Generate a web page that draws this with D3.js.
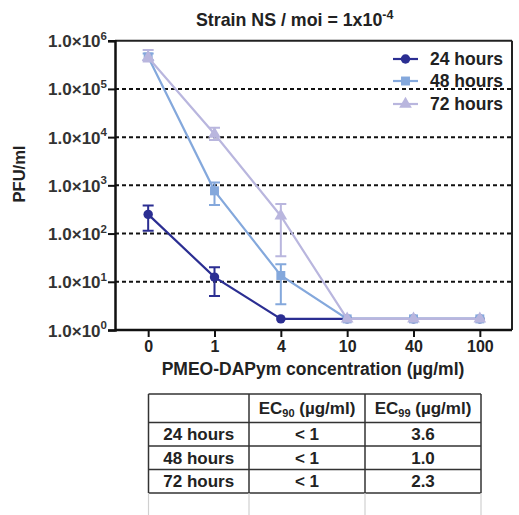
<!DOCTYPE html>
<html><head><meta charset="utf-8">
<script src="https://cdn.jsdelivr.net/npm/d3@7"></script>
<style>
html,body{margin:0;padding:0;background:#fff;}
svg{display:block;font-family:"Liberation Sans",Arial,sans-serif;}
</style></head>
<body><svg id="c" width="519" height="515"></svg>
<script>
const categories = ["0","1","4","10","40","100"];
const seriesNames = ["24 hours","48 hours","72 hours"];
const h24   = [250, 12.5, 1.7, 1.7, 1.7, 1.7];
const h24Lo = [115, 5.1, null, null, null, null];
const h24Hi = [380, 20, null, null, null, null];
const h48   = [4.6e5, 770, 13.5, 1.7, 1.7, 1.7];
const h48Lo = [4.0e5, 390, 3.4, null, null, null];
const h48Hi = [5.4e5, 1140, 23, null, null, null];
const h72   = [4.5e5, 1.16e4, 232, 1.7, 1.7, 1.7];
const h72Lo = [3.7e5, 8700, 34, null, null, null];
const h72Hi = [6.4e5, 1.57e4, 410, null, null, null];
const yTickValues = [1, 10, 100, 1000, 10000, 100000, 1000000];
const yTickExponents = ["0","1","2","3","4","5","6"];
const tableHeader = ["", "EC", "EC"];
const tableHeaderSub = ["", "90", "99"];
const tableRows = ["24 hours","48 hours","72 hours"];
const ec90 = ["< 1","< 1","< 1"];
const ec99 = ["3.6","1.0","2.3"];

const colors = ["#2b2e92", "#84a8dc", "#b9b6de"];
const series = [
  {name: seriesNames[0], v: h24, lo: h24Lo, hi: h24Hi, color: colors[0], sym: d3.symbolCircle, size: 70},
  {name: seriesNames[1], v: h48, lo: h48Lo, hi: h48Hi, color: colors[1], sym: d3.symbolSquare, size: 80},
  {name: seriesNames[2], v: h72, lo: h72Lo, hi: h72Hi, color: colors[2], sym: d3.symbolTriangle, size: 70}
];

const svg = d3.select("#c");
const L = 115, R = 512, T = 40.7, B = 330;
const x = d3.scalePoint().domain(categories).range([L, R + 1]).padding(0.5);
const y = d3.scaleLog().domain([1, 1e6]).range([B, T]);

svg.append("g").selectAll("line").data(yTickValues.slice(1, 6)).join("line")
  .attr("x1", L).attr("x2", R).attr("y1", d => y(d)).attr("y2", d => y(d))
  .attr("stroke", "#111").attr("stroke-width", 2).attr("stroke-dasharray", "4,3");

svg.append("line").attr("x1", L).attr("x2", R).attr("y1", T).attr("y2", T).attr("stroke", "#222").attr("stroke-width", 2);
svg.append("line").attr("x1", R).attr("x2", R).attr("y1", T).attr("y2", B).attr("stroke", "#222").attr("stroke-width", 2);

const yAxis = d3.axisLeft(y).tickValues(yTickValues).tickSize(7).tickFormat("");
const gy = svg.append("g").attr("transform", `translate(${L},0)`).call(yAxis);
gy.select(".domain").attr("stroke", "#111").attr("stroke-width", 2.5);
gy.selectAll(".tick line").attr("stroke", "#111").attr("stroke-width", 2);
gy.selectAll(".tick").each(function(d, i) {
  const t = d3.select(this).append("text").attr("x", -8).attr("y", 6)
    .attr("text-anchor", "end").attr("fill", "#333").attr("font-weight", "bold").attr("font-size", 17);
  t.append("tspan").text("1.0\u00d710");
  t.append("tspan").attr("dy", -7.5).attr("font-size", 11.5).text(yTickExponents[i]);
});

const xAxis = d3.axisBottom(x).tickSize(7).tickFormat(d => d);
const gx = svg.append("g").attr("transform", `translate(0,${B})`).call(xAxis);
gx.select(".domain").attr("d", `M${L},0H${R}`).attr("stroke", "#111").attr("stroke-width", 2.5);
gx.selectAll(".tick line").attr("stroke", "#111").attr("stroke-width", 2);
gx.selectAll(".tick text").attr("y", 11).attr("dy", "0.71em").attr("font-size", 16)
  .attr("font-weight", "bold").attr("fill", "#222").attr("font-family", "Liberation Sans, Arial, sans-serif");

const line = d3.line().x((d, i) => x(categories[i])).y(d => y(d));
series.forEach(s => {
  const g = svg.append("g");
  g.append("path").attr("d", line(s.v)).attr("fill", "none").attr("stroke", s.color).attr("stroke-width", 2.2);
  s.v.forEach((v, i) => {
    if (s.lo[i] == null) return;
    const cx = x(categories[i]);
    g.append("path").attr("d", `M${cx},${y(s.lo[i])}V${y(s.hi[i])}M${cx-5.5},${y(s.lo[i])}H${cx+5.5}M${cx-5.5},${y(s.hi[i])}H${cx+5.5}`)
      .attr("stroke", s.color).attr("stroke-width", 2).attr("fill", "none");
  });
  g.selectAll(".pt").data(s.v).join("path")
    .attr("transform", (d, i) => `translate(${x(categories[i])},${y(d)})`)
    .attr("d", d3.symbol(s.sym, s.size)).attr("fill", s.color);
});

const legY = [59, 81, 104];
series.forEach((s, i) => {
  const g = svg.append("g").attr("transform", `translate(0,${legY[i]})`);
  g.append("line").attr("x1", 393).attr("x2", 418).attr("stroke", s.color).attr("stroke-width", 2.2);
  g.append("path").attr("transform", "translate(405.5,0)").attr("d", d3.symbol(s.sym, s.size)).attr("fill", s.color);
  g.append("text").attr("x", 430).attr("y", 6).attr("font-size", 17.5).attr("font-weight", "bold").attr("fill", "#222").text(s.name);
});

const tt = svg.append("text").attr("x", 196).attr("y", 25.5).attr("font-size", 17.8).attr("font-weight", "bold").attr("fill", "#222");
tt.append("tspan").text("Strain NS / moi = 1x10");
tt.append("tspan").attr("dy", -7).attr("font-size", 12.5).text("-4");

svg.append("text").attr("x", 313).attr("y", 375).attr("text-anchor", "middle").attr("font-size", 17.5)
  .attr("font-weight", "bold").attr("fill", "#222").text("PMEO-DAPym concentration (\u00b5g/ml)");
svg.append("text").attr("transform", "translate(25,174) rotate(-90)").attr("text-anchor", "middle")
  .attr("font-size", 16.5).attr("font-weight", "bold").attr("fill", "#222").text("PFU/ml");

const colX = [148.5, 249, 365, 481];
const rowY = [394, 422.5, 446, 469.5, 493];
const tg = svg.append("g");
tg.selectAll(".h").data(rowY).join("line").attr("x1", colX[0]).attr("x2", colX[3])
  .attr("y1", d => d).attr("y2", d => d).attr("stroke", "#333").attr("stroke-width", 1.5);
tg.selectAll(".v").data(colX).join("line").attr("x1", d => d).attr("x2", d => d)
  .attr("y1", rowY[0]).attr("y2", rowY[4]).attr("stroke", "#333").attr("stroke-width", 1.5);
tg.selectAll(".vf").data(colX).join("line").attr("x1", d => d).attr("x2", d => d)
  .attr("y1", rowY[4]).attr("y2", 515).attr("stroke", "#d0d0d0").attr("stroke-width", 1.2);
const cMid = [(colX[0]+colX[1])/2, (colX[1]+colX[2])/2, (colX[2]+colX[3])/2];
[1, 2].forEach(c => {
  const t = tg.append("text").attr("x", cMid[c]).attr("y", (rowY[0]+rowY[1])/2 + 6).attr("text-anchor", "middle")
    .attr("font-size", 17).attr("font-weight", "bold").attr("fill", "#222");
  t.append("tspan").text(tableHeader[c]);
  t.append("tspan").attr("font-size", 11).attr("dy", 3).text(tableHeaderSub[c]);
  t.append("tspan").attr("dy", -3).text(" (\u00b5g/ml)");
});
tableRows.forEach((r, i) => {
  const cy = (rowY[i+1] + rowY[i+2]) / 2 + 6;
  [r, ec90[i], ec99[i]].forEach((txt, c) => {
    tg.append("text").attr("x", cMid[c]).attr("y", cy).attr("text-anchor", "middle")
      .attr("font-size", 17).attr("font-weight", "bold").attr("fill", "#222").text(txt);
  });
});
</script></body></html>
